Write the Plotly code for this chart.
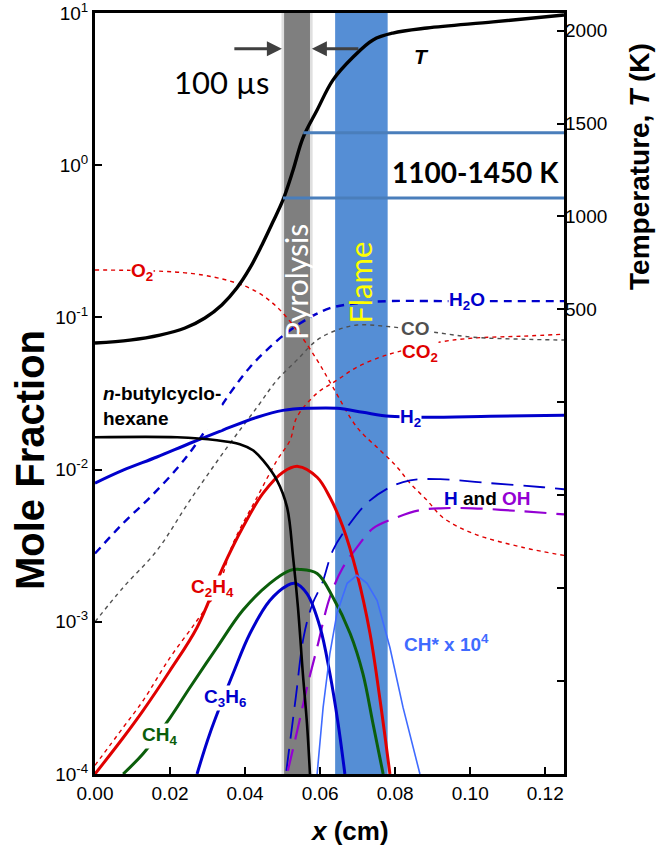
import plotly.graph_objects as go

# ---------------------------------------------------------------------------
# Species mole-fraction profiles along the burner axis x (cm)
# ---------------------------------------------------------------------------
x_O2 = [0.0, 0.0253, 0.0368, 0.0432, 0.0485, 0.0538, 0.0592, 0.0634, 0.0698,
        0.0760, 0.0805, 0.0840, 0.0885, 0.0927, 0.1007, 0.1141, 0.125]
O2 = [0.205, 0.195, 0.171, 0.147, 0.117, 0.0824, 0.0524, 0.0348, 0.0190,
      0.0134, 0.0104, 0.00813, 0.00628, 0.00485, 0.00381, 0.00308, 0.00273]

x_H2O = [0.0, 0.0075, 0.0147, 0.0219, 0.0267, 0.0307, 0.0360, 0.0413, 0.0466,
         0.0520, 0.0573, 0.0626, 0.0698, 0.0786, 0.0927, 0.125]
H2O = [0.00281, 0.00444, 0.00658, 0.0102, 0.01445, 0.0202, 0.0318, 0.0471,
       0.0638, 0.0824, 0.100, 0.115, 0.124, 0.128, 0.128, 0.128]

x_CO = [0.0, 0.0075, 0.0165, 0.0253, 0.0352, 0.0432, 0.0485, 0.0538, 0.0592,
        0.0645, 0.0698, 0.0768, 0.0920, 0.1007, 0.1141, 0.125]
CO = [0.00100, 0.00168, 0.00294, 0.00628, 0.0140, 0.0257, 0.0387, 0.0524,
      0.0710, 0.0826, 0.0891, 0.0877, 0.0789, 0.0741, 0.0719, 0.0710]

x_CO2 = [0.0, 0.0075, 0.0128, 0.0200, 0.0272, 0.0325, 0.0368, 0.0432, 0.0485,
         0.0520, 0.0538, 0.0592, 0.0645, 0.0698, 0.0760, 0.0805, 0.0920,
         0.1007, 0.1141, 0.125]
CO2 = [0.000114, 0.000202, 0.000303, 0.000582, 0.00102, 0.00161, 0.00327,
       0.00658, 0.0115, 0.0156, 0.0221, 0.0318, 0.0387, 0.0471, 0.0548,
       0.0592, 0.0689, 0.0731, 0.0753, 0.0776]

x_H2 = [0.0, 0.0075, 0.0165, 0.0253, 0.0341, 0.0432, 0.0501, 0.0573, 0.0645,
        0.0714, 0.0786, 0.0874, 0.1053, 0.125]
H2 = [0.00815, 0.00991, 0.0121, 0.0149, 0.0182, 0.0221, 0.0245, 0.0253,
      0.0253, 0.0238, 0.0224, 0.0221, 0.0224, 0.0228]

x_fuel = [0.0, 0.0219, 0.0325, 0.0386, 0.0421, 0.0448, 0.0485, 0.0512, 0.0528,
          0.0541, 0.0554, 0.0565, 0.0573]
fuel = [0.0163, 0.0163, 0.0156, 0.0147, 0.0134, 0.0115, 0.00851, 0.00565,
        0.00265, 0.00124, 0.000457, 0.000214, 0.000100]

x_C2H4 = [0.0, 0.0075, 0.0128, 0.0200, 0.0272, 0.0341, 0.0394, 0.0448, 0.0501,
          0.0541, 0.0592, 0.0626, 0.0661, 0.0698, 0.0733, 0.0760, 0.0786]
C2H4 = [0.000100, 0.000173, 0.000261, 0.000479, 0.000918, 0.00228, 0.00418,
        0.00700, 0.00962, 0.0105, 0.00891, 0.00658, 0.00418, 0.00208,
        0.000838, 0.000303, 0.000100]

x_CH4 = [0.0075, 0.0128, 0.0200, 0.0253, 0.0325, 0.0394, 0.0466, 0.0520,
         0.0546, 0.0592, 0.0634, 0.0680, 0.0714, 0.0741, 0.0768]
CH4 = [0.000100, 0.000136, 0.000234, 0.000370, 0.000678, 0.00119, 0.00179,
       0.00218, 0.00221, 0.00208, 0.00145, 0.000838, 0.000457, 0.000214,
       0.000100]

x_C3H6 = [0.0272, 0.0306, 0.0368, 0.0413, 0.0466, 0.0512, 0.0533, 0.0565,
          0.0600, 0.0626, 0.0648, 0.0666]
C3H6 = [0.000100, 0.000184, 0.000457, 0.000838, 0.00138, 0.00173, 0.00179,
        0.00153, 0.000918, 0.000457, 0.000214, 0.000100]

x_H = [0.0510, 0.0535, 0.0556, 0.0580, 0.0605, 0.0634, 0.0672, 0.0725, 0.0786,
       0.0840, 0.0920, 0.1053, 0.1194, 0.125]
H = [0.000105, 0.000316, 0.000794, 0.00132, 0.00178, 0.00295, 0.00417,
     0.00603, 0.00766, 0.00851, 0.00865, 0.00815, 0.00766, 0.00743]

x_OH = [0.0514, 0.0541, 0.0565, 0.0592, 0.0626, 0.0661, 0.0698, 0.0741, 0.0805,
        0.0866, 0.0920, 0.1007, 0.1141, 0.125]
OH = [0.000105, 0.000202, 0.000370, 0.000678, 0.00145, 0.00228, 0.00308,
      0.00411, 0.00486, 0.00541, 0.00557, 0.00557, 0.00532, 0.00508]

# CH* chemiluminescence, scaled by 1e4
x_CHs = [0.0592, 0.0608, 0.0626, 0.0645, 0.0672, 0.0698, 0.0725, 0.0752,
         0.0786, 0.0821, 0.0866]
CHs = [0.000100, 0.000274, 0.000619, 0.00114, 0.00179, 0.00202, 0.00179,
       0.00138, 0.000678, 0.000274, 0.000100]

# Gas temperature (K), right axis
x_T = [0.0, 0.0093, 0.0173, 0.0240, 0.0293, 0.0338, 0.0378, 0.0413, 0.0445,
       0.0474, 0.0501, 0.0528, 0.0554, 0.0592, 0.0634, 0.0688, 0.0741,
       0.0794, 0.0885, 0.1061, 0.125]
T = [319, 335, 362, 400, 454, 524, 615, 723, 847, 970, 1089, 1250, 1422, 1573,
     1734, 1858, 1950, 1987, 2014, 2047, 2084]

# Temperature window 1100-1450 K and where each level is first reached
T_window = [1100, 1450]
T_window_start = [0.0501, 0.0555]
x_end = 0.125

# Pyrolysis and flame zones (cm)
pyrolysis_zone = [0.0504, 0.0573]
flame_zone = [0.0640, 0.0780]

# Tick labels
x_ticks = [0.0, 0.02, 0.04, 0.06, 0.08, 0.10, 0.12]
y_ticks = [1e-4, 1e-3, 1e-2, 1e-1, 1e0, 1e1]
y_tick_text = ["10<sup>-4</sup>", "10<sup>-3</sup>", "10<sup>-2</sup>",
               "10<sup>-1</sup>", "10<sup>0</sup>", "10<sup>1</sup>"]
T_ticks = [-1500, -1000, -500, 0, 500, 1000, 1500, 2000]
T_tick_text = ["", "", "", "", "500", "1000", "1500", "2000"]

RED = "#E00000"
BLUE = "#0000CC"
GREEN = "#0B5E0B"
PURPLE = "#9400D3"
GREY = "#505050"
LIGHTBLUE = "#3F6BFF"
ARIAL = "Liberation Sans, Arial, sans-serif"
CALIBRI = "Lato, Open Sans, sans-serif"

fig = go.Figure()


def add_line(x, y, color, width, dash="solid", axis="y", shape="spline"):
    fig.add_trace(go.Scatter(
        x=x, y=y, mode="lines", yaxis=axis, showlegend=False,
        line=dict(color=color, width=width, dash=dash, shape=shape,
                  smoothing=1.0 if shape == "spline" else None),
        hoverinfo="skip"))


# dashed major products / reactants
add_line(x_O2, O2, RED, 1.4, "4px,4px")
add_line(x_CO2, CO2, RED, 1.4, "4px,4px")
add_line(x_CO, CO, GREY, 1.4, "4px,4px")
add_line(x_H2O, H2O, BLUE, 2.4, "8px,6px")
# radicals
add_line(x_H, H, BLUE, 1.8, "22px,10px")
add_line(x_OH, OH, PURPLE, 2.2, "22px,10px")
# intermediates
add_line(x_H2, H2, BLUE, 3)
add_line(x_C2H4, C2H4, RED, 3)
add_line(x_CH4, CH4, GREEN, 3)
add_line(x_C3H6, C3H6, BLUE, 3)
add_line(x_CHs, CHs, LIGHTBLUE, 1.6, shape="linear")
add_line(x_fuel, fuel, "black", 2.6)
# temperature profile and the temperature window
add_line(x_T, T, "black", 3.4, axis="y2")
for level, start in zip(T_window, T_window_start):
    add_line([start, x_end], [level, level], "#4A7EBB", 3, axis="y2",
             shape="linear")

# shaded zones
shapes = [
    dict(type="rect", xref="x", yref="paper", layer="below",
         x0=pyrolysis_zone[0] - 0.0007, x1=pyrolysis_zone[1] + 0.0007,
         y0=0, y1=1, line_width=0, fillcolor="rgba(128,128,128,0.25)"),
    dict(type="rect", xref="x", yref="paper", layer="below",
         x0=pyrolysis_zone[0], x1=pyrolysis_zone[1], y0=0, y1=1,
         line_width=0, fillcolor="#7F7F7F"),
    dict(type="rect", xref="x", yref="paper", layer="below",
         x0=flame_zone[0], x1=flame_zone[1], y0=0, y1=1,
         line_width=0, fillcolor="#558ED5"),
]


def label(text, x, y, color, size=19, bg=True, **kw):
    d = dict(text="<b>%s</b>" % text, x=x, y=y, xref="x", yref="y",
             xanchor="center", yanchor="middle",
             showarrow=False, font=dict(family=ARIAL, size=size, color=color),
             borderpad=0)
    if bg:
        d["bgcolor"] = "white"
    d.update(kw)
    return d


def free_text(text, x, y, size, color, family=CALIBRI, angle=0, **kw):
    d = dict(text=text, x=x, y=y, xref="x", yref="y", textangle=angle,
             xanchor="center", yanchor="middle", showarrow=False,
             font=dict(family=family, size=size, color=color))
    d.update(kw)
    return d


annotations = [
    label("O<sub>2</sub>", 0.0125, -0.70, RED),
    label("H<sub>2</sub>O", 0.0991, -0.893, BLUE),
    label("CO", 0.0853, -1.071, GREY),
    label("CO<sub>2</sub>", 0.0866, -1.235, RED),
    label("<i>n</i>-butylcyclo-<br>hexane", 0.0019, -1.583, "black",
          xanchor="left", align="left"),
    label("H<sub>2</sub>", 0.0842, -1.662, BLUE),
    label("<span style='color:%s'>H</span> and "
          "<span style='color:%s'>OH</span>" % (BLUE, PURPLE),
          0.1045, -2.189, "black", bg=False),
    label("C<sub>2</sub>H<sub>4</sub>", 0.0312, -2.78, RED),
    label("CH<sub>4</sub>", 0.0173, -3.748, GREEN),
    label("C<sub>3</sub>H<sub>6</sub>", 0.0346, -3.498, BLUE),
    label("CH* x 10<sup>4</sup>", 0.0938, -3.142, LIGHTBLUE, bg=False),
    label("<i>T</i>", 0.0871, 0.713, "black", size=21, bg=False),
    free_text("<b>1100-1450 K</b>", 0.1013, -0.044, 28, "black"),
    free_text("100 µs", 0.0338, 0.548, 31, "black"),
    free_text("Pyrolysis", 0.0536, -0.767, 30, "white", angle=-90),
    free_text("Flame", 0.0705, -0.774, 31, "#FFFF00", angle=-90),
    # arrows bracketing the 100 µs pyrolysis zone
    dict(text="", x=0.0498, y=0.765, xref="x", yref="y", ax=-49, ay=0,
         showarrow=True, arrowhead=2, arrowsize=1, arrowwidth=3,
         arrowcolor="#404040"),
    dict(text="", x=0.0578, y=0.765, xref="x", yref="y", ax=48, ay=0,
         showarrow=True, arrowhead=2, arrowsize=1, arrowwidth=3,
         arrowcolor="#404040"),
    # axis titles
    dict(text="<b>Mole Fraction</b>", x=-0.1386, y=0.4126, xref="paper",
         yref="paper", xanchor="center", yanchor="middle", textangle=-90,
         showarrow=False, font=dict(family=ARIAL, size=40, color="black")),
    dict(text="<b>Temperature, <i>T</i> (K)</b>", x=1.162, y=0.799,
         xref="paper", yref="paper", xanchor="center", yanchor="middle",
         textangle=-90, showarrow=False,
         font=dict(family=ARIAL, size=28, color="black")),
    dict(text="<b><i>x</i> (cm)</b>", x=0.5416, y=-0.0755, xref="paper",
         yref="paper", xanchor="center", yanchor="middle", showarrow=False,
         font=dict(family=ARIAL, size=26, color="black")),
]

tickfont = dict(family=ARIAL, size=19, color="black")
axis_common = dict(ticks="inside", ticklen=7, tickwidth=1.5, tickcolor="black",
                   showgrid=False, zeroline=False, tickfont=tickfont,
                   automargin=False, ticklabeloverflow="allow")

fig.update_layout(
    width=667, height=848,
    margin=dict(l=95, r=103, t=13, b=74, pad=0, autoexpand=False),
    plot_bgcolor="white", paper_bgcolor="white",
    showlegend=False,
    shapes=shapes, annotations=annotations,
    xaxis=dict(range=[0, 0.125], tickvals=x_ticks, tickformat=".2f",
               showline=True, linewidth=3, linecolor="black", mirror=True,
               **axis_common),
    yaxis=dict(type="log", range=[-4, 1.0002], tickvals=y_ticks,
               ticktext=y_tick_text, showline=True, linewidth=3,
               linecolor="black", mirror=True, **axis_common),
    yaxis2=dict(overlaying="y", side="right", range=[-2000, 2095],
                tickvals=T_ticks, ticktext=T_tick_text, showline=False,
                **axis_common),
)

fig.write_html("out.html")
